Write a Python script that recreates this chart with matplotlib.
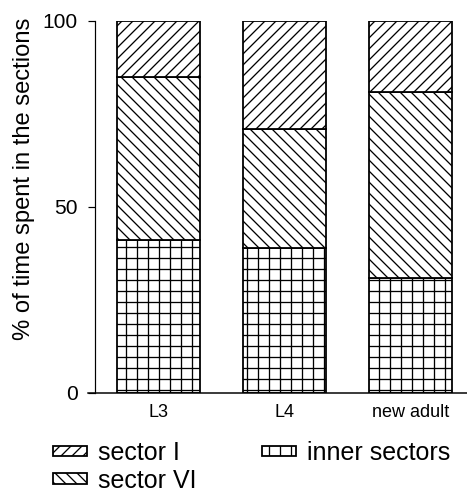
import matplotlib
matplotlib.use("Agg")
import matplotlib.pyplot as plt
import numpy as np

DPI = 66
def pt(px):
    return px * 72.0 / DPI

plt.rcParams['font.family'] = ['Liberation Sans', 'DejaVu Sans']
plt.rcParams['hatch.linewidth'] = pt(1.3)
plt.rcParams['hatch.color'] = 'black'

categories = ['L3', 'L4', 'new adult']
inner_sectors = [41, 39, 31]
sector_VI = [44, 32, 50]
sector_I = [15, 29, 19]
y_ticks = [0, 50, 100]

W, H = 467, 495
fig = plt.figure(figsize=(W / DPI, H / DPI), dpi=DPI)
ax = fig.add_axes([88 / W, 102 / H, 379 / W, 372 / H])

x = np.arange(len(categories))
bw = 83 / 126
edge = dict(edgecolor='black', linewidth=pt(1.8), facecolor='white')
b1 = ax.bar(x, inner_sectors, bw, hatch='+', **edge, label='inner sectors')
b2 = ax.bar(x, sector_VI, bw, bottom=inner_sectors, hatch='\\\\', **edge, label='sector VI')
bottom2 = np.array(inner_sectors) + np.array(sector_VI)
b3 = ax.bar(x, sector_I, bw, bottom=bottom2, hatch='//', **edge, label='sector I')

ax.set_xlim(-(158.5 - 88) / 126, 2 + (467 - 410.5) / 126)
ax.set_ylim(0, 100)
ax.spines['top'].set_visible(False)
ax.spines['right'].set_visible(False)
ax.spines['left'].set_position(('axes', 7 / 379))
ax.spines['left'].set_linewidth(pt(1.2))
ax.spines['bottom'].set_linewidth(pt(1.5))
ax.set_yticks(y_ticks)
ax.set_yticklabels([str(v) for v in y_ticks], fontsize=pt(21))
ax.tick_params(axis='y', length=pt(7), width=pt(1.2), pad=pt(10))
ax.set_xticks(x)
ax.set_xticklabels(categories, fontsize=pt(18))
ax.tick_params(axis='x', length=0, pad=pt(11))

fig.text(24 / W, 1 - 178.5 / H, '% of time spent in the sections', rotation=90,
         ha='center', va='center', fontsize=pt(23.8))

leg = fig.legend([b3, b2, b1], ['sector I', 'sector VI', 'inner sectors'],
                 ncol=2, loc='upper left', bbox_to_anchor=(53 / W, 1 - 441 / H),
                 frameon=False, fontsize=pt(25), handlelength=34 / 25,
                 handleheight=7 / 25, handletextpad=0.45, columnspacing=2.6,
                 labelspacing=0.15, borderpad=0, borderaxespad=0)

fig.savefig('out.png', dpi=DPI)
